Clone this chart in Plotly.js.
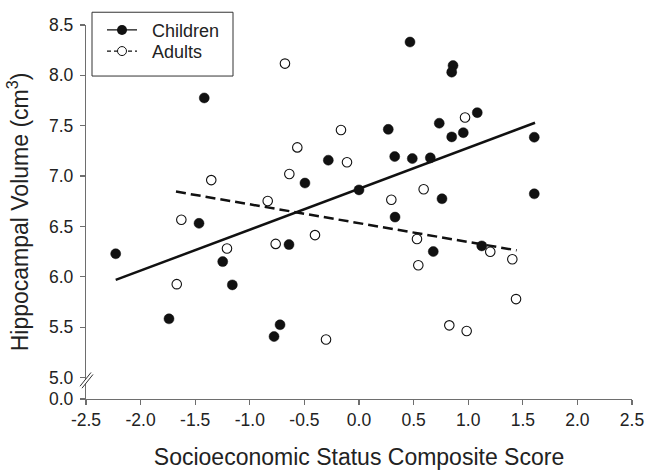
<!DOCTYPE html>
<html>
<head>
<meta charset="utf-8">
<script src="https://cdn.plot.ly/plotly-3.0.1.min.js"></script>
<style>html,body{margin:0;padding:0;background:#fff;}#chart{width:646px;height:470px;}</style>
</head>
<body>
<div id="chart"></div>
<script>
// Children (filled circles)
var childrenSES = [-2.228,-1.417,-1.465,-1.248,-1.160,-1.740,-0.641,-0.723,-0.778,0.467,0.861,0.849,1.083,0.735,0.849,0.955,1.605,1.605,0.268,0.327,0.488,0.653,-0.281,-0.495,0.000,0.760,0.330,0.680,1.124];
var childrenVol = [6.229,7.776,6.531,6.151,5.920,5.583,6.320,5.524,5.407,8.331,8.097,8.032,7.630,7.525,7.389,7.431,7.386,6.824,7.464,7.194,7.174,7.181,7.158,6.931,6.863,6.775,6.593,6.251,6.307];
// Adults (open circles)
var adultsSES = [-1.353,-0.836,-1.627,-1.209,-0.763,-0.403,-1.669,-0.302,-0.678,0.971,-0.165,-0.565,-0.110,-0.638,0.592,0.296,0.531,0.543,1.202,1.404,1.438,0.827,0.986];
var adultsVol = [6.960,6.752,6.567,6.281,6.327,6.414,5.927,5.378,8.117,7.581,7.457,7.285,7.138,7.021,6.869,6.765,6.375,6.115,6.249,6.175,5.779,5.518,5.462];
// Regression line endpoints
var childFitX = [-2.228, 1.612];
var childFitY = [5.969, 7.530];
var adultFitX = [-1.676, 1.444];
var adultFitY = [6.846, 6.263];
// Axis ticks (broken y axis: bottom value labelled 0.0)
var xTicks = [-2.5,-2.0,-1.5,-1.0,-0.5,0.0,0.5,1.0,1.5,2.0,2.5];
var xTickText = ["-2.5","-2.0","-1.5","-1.0","-0.5","0.0","0.5","1.0","1.5","2.0","2.5"];
var yBottom = 4.787;
var yTicks = [yBottom,5.0,5.5,6.0,6.5,7.0,7.5,8.0,8.5];
var yTickText = ["0.0","5.0","5.5","6.0","6.5","7.0","7.5","8.0","8.5"];
var seriesNames = ["Children", "Adults"];

var font = "Liberation Sans, Arial, Helvetica, sans-serif";
var ink = "#111111";
var axisGray = "#6e6e6e";
var nb = "\u00a0\u00a0";

var traces = [
  {x: childFitX, y: childFitY, mode: "lines", line: {color: ink, width: 2.5}, showlegend: false, hoverinfo: "skip"},
  {x: adultFitX, y: adultFitY, mode: "lines", line: {color: ink, width: 2.5, dash: "10px,5px"}, showlegend: false, hoverinfo: "skip"},
  {x: childrenSES, y: childrenVol, mode: "markers", name: seriesNames[0], showlegend: false,
   marker: {symbol: "circle", size: 10, color: ink, line: {color: ink, width: 0.5}}},
  {x: adultsSES, y: adultsVol, mode: "markers", name: seriesNames[1], showlegend: false,
   marker: {symbol: "circle", size: 9.5, color: "#ffffff", line: {color: ink, width: 1.1}}},
  {x: [null], y: [null], mode: "lines+markers", name: nb + seriesNames[0], legend: "legend",
   line: {color: ink, width: 1.2}, marker: {symbol: "circle", size: 10, color: ink}},
  {x: [null], y: [null], mode: "lines+markers", name: nb + seriesNames[1], legend: "legend2",
   line: {color: ink, width: 1.2, dash: "4px,3px"}, marker: {symbol: "circle", size: 9, color: "#ffffff", line: {color: ink, width: 1}}}
];

function px(xp){ return (xp - 86) / 546; }
function py(yp){ return (399 - yp) / 381; }

var shapes = [
  // legend frame
  {type: "rect", xref: "paper", yref: "paper", layer: "below",
   x0: px(92), x1: px(233), y0: py(70), y1: py(5), line: {color: "#333333", width: 1}, fillcolor: "rgba(0,0,0,0)"},
  // axis break
  {type: "path", xref: "paper", yref: "paper", layer: "above",
   path: "M" + px(80) + "," + py(386) + " L" + px(91) + "," + py(372) + " L" + px(93) + "," + py(374) + " L" + px(82) + "," + py(388) + " Z",
   fillcolor: "#ffffff", line: {width: 0}},
  {type: "line", xref: "paper", yref: "paper", layer: "above",
   x0: px(80), y0: py(386), x1: px(91), y1: py(372), line: {color: "#333333", width: 1}},
  {type: "line", xref: "paper", yref: "paper", layer: "above",
   x0: px(82), y0: py(388), x1: px(93), y1: py(374), line: {color: "#333333", width: 1}}
];

var legendBase = {xanchor: "left", yanchor: "top", borderwidth: 0, bgcolor: "rgba(0,0,0,0)",
                  font: {family: font, size: 18, color: "#222222"}};

var layout = {
  width: 646, height: 470,
  margin: {l: 86, r: 14, t: 18, b: 71, pad: 0},
  paper_bgcolor: "#ffffff", plot_bgcolor: "#ffffff",
  font: {family: font, color: "#222222", size: 17.5},
  showlegend: true,
  legend: Object.assign({x: px(102), y: py(4.5)}, legendBase),
  legend2: Object.assign({x: px(102), y: py(26)}, legendBase),
  xaxis: {range: [-2.5, 2.5], tickmode: "array", tickvals: xTicks, ticktext: xTickText,
          showgrid: false, zeroline: false, showline: true, linecolor: axisGray, linewidth: 1.2,
          ticks: "outside", ticklen: 5, tickcolor: axisGray, tickwidth: 1.2,
          tickfont: {family: font, size: 17.5, color: "#222222"},
          title: {text: "Socioeconomic Status Composite Score", font: {family: font, size: 23, color: "#222222"}, standoff: 23}},
  yaxis: {range: [yBottom, 8.5], tickmode: "array", tickvals: yTicks, ticktext: yTickText,
          showgrid: false, zeroline: false, showline: true, linecolor: axisGray, linewidth: 1.2,
          ticks: "outside", ticklen: 5, tickcolor: axisGray, tickwidth: 1.2, ticklabelstandoff: 3,
          tickfont: {family: font, size: 17.5, color: "#222222"},
          title: {text: "Hippocampal Volume (cm<sup>3</sup>)", font: {family: font, size: 23, color: "#222222"}, standoff: 14}},
  shapes: shapes
};

Plotly.newPlot("chart", traces, layout, {displayModeBar: false, staticPlot: true});
</script>
</body>
</html>
